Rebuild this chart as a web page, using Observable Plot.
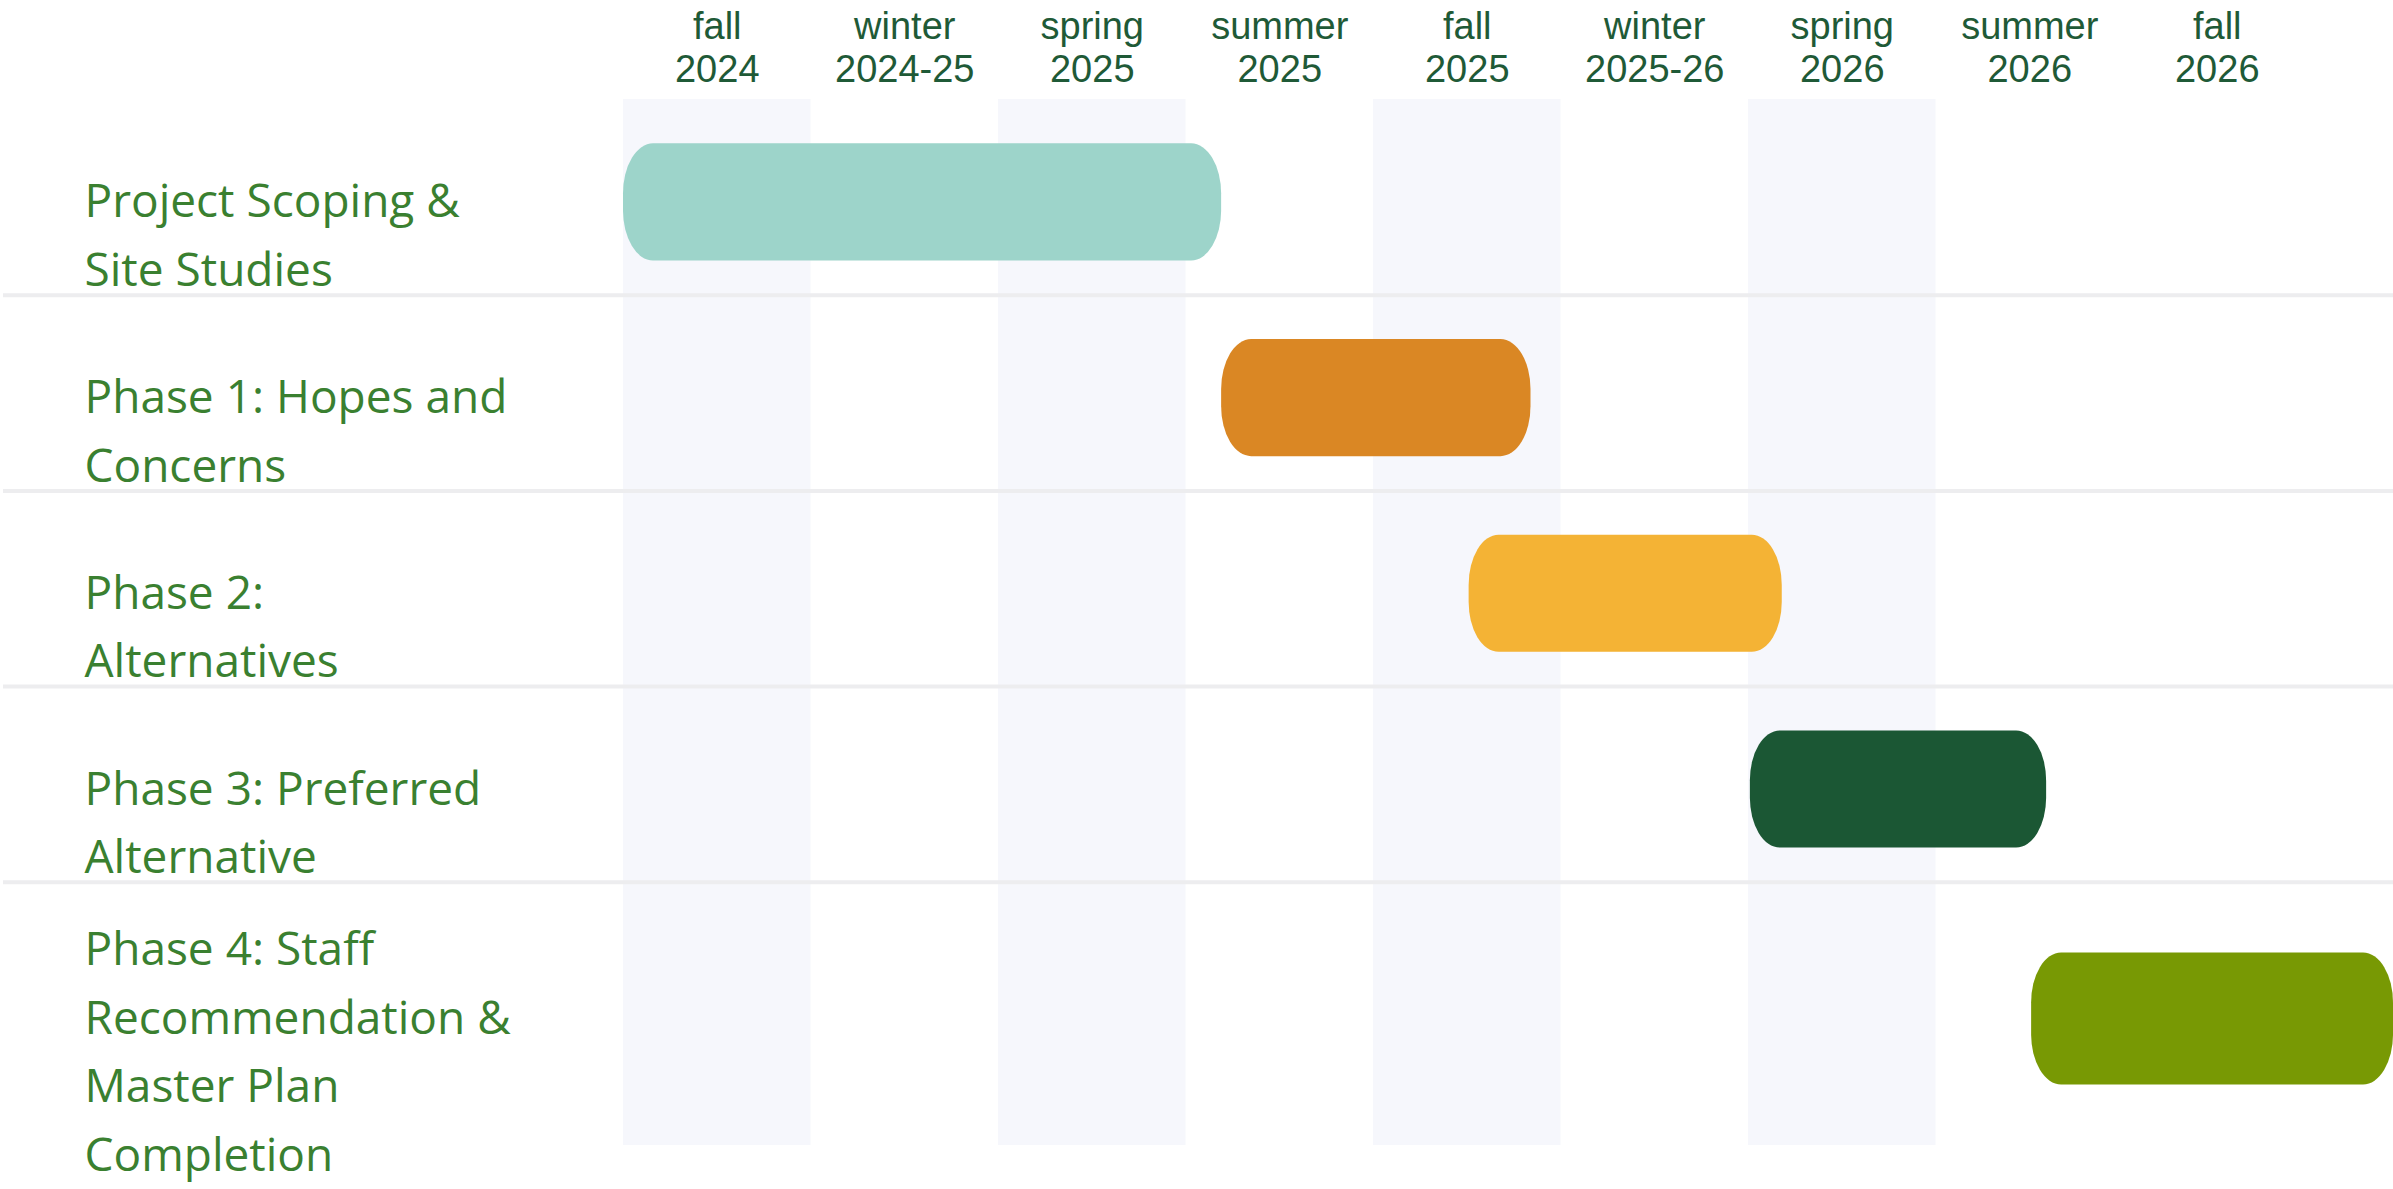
<!DOCTYPE html>
<html>
<head>
<meta charset="utf-8">
<script src="https://cdn.jsdelivr.net/npm/d3@7"></script>
<script src="https://cdn.jsdelivr.net/npm/@observablehq/plot@0.6"></script>
<style>
  html, body { margin: 0; padding: 0; background: #ffffff; }
  #chart svg { display: block; }
</style>
</head>
<body>
<div id="chart"></div>
<script>
// ---- Data ----
const phaseLabels = [
  "Project Scoping &\nSite Studies",
  "Phase 1: Hopes and\nConcerns",
  "Phase 2:\nAlternatives",
  "Phase 3: Preferred\nAlternative",
  "Phase 4: Staff\nRecommendation &\nMaster Plan\nCompletion"
];
// start / end positions in seasons from the start of fall 2024 (1 = one season)
const phaseStart = [0, 3.19, 4.51, 6.01, 7.51];
const phaseEnd   = [3.19, 4.84, 6.18, 7.59, 9.44];
const phaseColors = ["#9dd4ca", "#da8724", "#f4b335", "#1b5734", "#789904"];

const seasonLabels = [
  "fall\n2024", "winter\n2024-25", "spring\n2025", "summer\n2025", "fall\n2025",
  "winter\n2025-26", "spring\n2026", "summer\n2026", "fall\n2026"
];
const shadedSeasons = ["fall\n2024", "spring\n2025", "fall\n2025", "spring\n2026"];
const visibleSeasons = 9.44;

// ---- Layout helpers (row heights follow the number of label lines) ----
const W = 2393, H = 1189;
const rowPad = 3.8;
let acc = 0;
const rows = phaseLabels.map((label, i) => {
  const lines = label.split("\n").length;
  const units = lines + rowPad;
  const r = {
    label, lines, units, top: acc, bottom: acc + units,
    center: acc + units / 2,
    start: phaseStart[i], end: phaseEnd[i], color: phaseColors[i],
    bar: 3.47 + 0.22 * (lines - 2)
  };
  acc += units;
  return r;
});
const totalUnits = acc;
const shadedIdx = shadedSeasons.map(s => seasonLabels.indexOf(s));

const labelGreen = "#3a8030";
const tickGreen = "#1f5a37";

const chart = Plot.plot({
  width: W,
  height: H,
  marginLeft: 0, marginRight: 0, marginTop: 0, marginBottom: 0,
  style: { fontFamily: "'Open Sans', sans-serif", background: "#ffffff" },
  x: { domain: [0, visibleSeasons], range: [623, W], axis: null },
  y: { domain: [0, totalUnits], range: [99, 1145], axis: null },
  color: { type: "identity" },
  marks: [
    // season stripes
    Plot.rect(shadedIdx, {
      x1: d => d, x2: d => d + 1, y1: 0, y2: totalUnits, fill: "#f6f7fc"
    }),
    // row separators
    Plot.ruleY(rows.slice(0, -1), {
      y: d => d.bottom, stroke: "#ededef", strokeWidth: 4, insetLeft: 3
    }),
    // phase bars
    Plot.rect(rows, {
      x1: "start", x2: "end",
      y1: d => d.center + 0.15 - d.bar / 2,
      y2: d => d.center + 0.15 + d.bar / 2,
      fill: "color", rx: 30, ry: 50
    }),
    // row labels
    Plot.text(rows, {
      y: d => d.center + 0.96,
      text: "label",
      frameAnchor: "left", dx: 84,
      textAnchor: "start", lineAnchor: "middle",
      lineHeight: 1.49, fontSize: 46, fill: labelGreen
    }),
    // season headers
    Plot.text(seasonLabels, {
      x: (d, i) => i + 0.5,
      text: d => d,
      frameAnchor: "top", dy: 8,
      textAnchor: "middle", lineAnchor: "top",
      lineHeight: 1.13, fontSize: 38, fill: tickGreen,
      fontFamily: "'Liberation Sans', Arial, sans-serif"
    })
  ]
});
document.getElementById("chart").appendChild(chart);
</script>
</body>
</html>
